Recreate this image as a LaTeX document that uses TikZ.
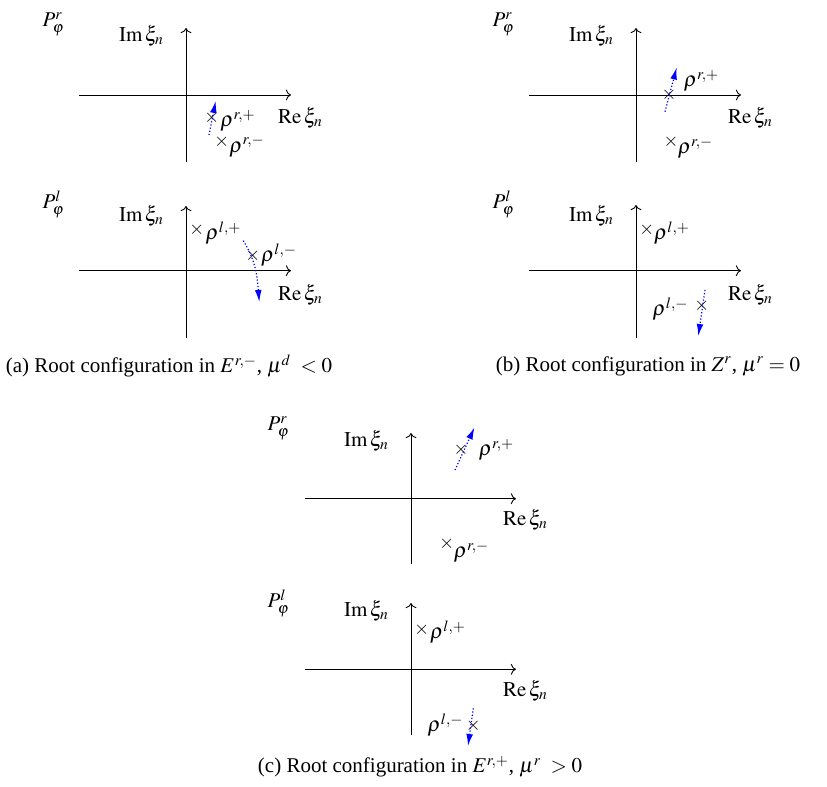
\documentclass[tikz,border=0pt]{standalone}
\usepackage{amsmath, amssymb}
\usepackage{mathptmx}
\usepackage[no-math]{fontspec}
\setmainfont{Liberation Serif}
\usepackage{tikz}
\usetikzlibrary{arrows.meta}
\tikzset{
    axis/.style={->, line width=0.45pt},
    root/.style={inner sep=0pt, outer sep=0pt, font=\fontsize{9.5}{11}\selectfont},
    rootlabel/.style={inner sep=0pt},
    flow/.style={blue, densely dotted, line width=0.6pt, -{Latex[length=6pt, width=3.4pt]}},
    caption/.style={align=center}
}

\begin{document}
\begin{tikzpicture}[x=0.5pt, y=-0.5pt, font=\fontsize{10.5}{12.6}\selectfont]
            \useasboundingbox (0,0) rectangle (827,787);

            % (a) top
            \node (aPr) at (53.5,24) {$P_\varphi^r$};
            \coordinate (aTw) at (79,95);
            \coordinate (aTe) at (291,95);
            \coordinate (aTs) at (186,162);
            \coordinate (aTn) at (186,28);
            \draw[axis] (aTw) -- (aTe);
            \draw[axis] (aTs) -- (aTn);
            \node (aTim) at (141.5,36) {$\operatorname{Im}\xi_n$};
            \node (aTre) at (300.5,118) {$\operatorname{Re}\xi_n$};
            \node[root] (arp) at (211.7,117.3) {$\times$};
            \node[rootlabel] (arpl) at (238,121) {$\rho^{r,+}$};
            \node[root] (arm) at (221.7,141.7) {$\times$};
            \node[rootlabel] (arml) at (247,146.5) {$\rho^{r,-}$};
            \coordinate (arp0) at (209,135);
            \coordinate (arp1) at (215.7,101);
            \draw[flow] (arp0) -- (arp1);

            % (a) bottom
            \node (aPl) at (53.5,204) {$P_\varphi^l$};
            \coordinate (aBw) at (79,270.7);
            \coordinate (aBe) at (291,270.7);
            \coordinate (aBs) at (186,338);
            \coordinate (aBn) at (186,206);
            \draw[axis] (aBw) -- (aBe);
            \draw[axis] (aBs) -- (aBn);
            \node (aBim) at (141.5,215.5) {$\operatorname{Im}\xi_n$};
            \node (aBre) at (300.5,294.5) {$\operatorname{Re}\xi_n$};
            \node[root] (alp) at (196.7,230) {$\times$};
            \node[rootlabel] (alpl) at (223.5,233) {$\rho^{l,+}$};
            \node[root] (alm) at (252.7,256) {$\times$};
            \node[rootlabel] (alml) at (279,255) {$\rho^{l,-}$};
            \coordinate (alm0) at (243.3,240.7);
            \coordinate (alm1) at (259.3,302);
            \draw[flow] (alm0) to[out=-58, in=95] (alm1);

            % (b) top
            \node (bPr) at (503.5,24) {$P_\varphi^r$};
            \coordinate (bTw) at (529,95);
            \coordinate (bTe) at (741,95);
            \coordinate (bTs) at (636,162);
            \coordinate (bTn) at (636,28);
            \draw[axis] (bTw) -- (bTe);
            \draw[axis] (bTs) -- (bTn);
            \node (bTim) at (591.5,36) {$\operatorname{Im}\xi_n$};
            \node (bTre) at (750.5,118) {$\operatorname{Re}\xi_n$};
            \node[root] (brp) at (669,95) {$\times$};
            \node[rootlabel] (brpl) at (701.5,81) {$\rho^{r,+}$};
            \node[root] (brm) at (671,141.7) {$\times$};
            \node[rootlabel] (brml) at (695.5,148) {$\rho^{r,-}$};
            \coordinate (brp0) at (665,111.7);
            \coordinate (brp1) at (676.7,67.5);
            \draw[flow] (brp0) -- (brp1);

            % (b) bottom
            \node (bPl) at (503.5,204) {$P_\varphi^l$};
            \coordinate (bBw) at (529,270.7);
            \coordinate (bBe) at (741,270.7);
            \coordinate (bBs) at (636,338);
            \coordinate (bBn) at (636,205);
            \draw[axis] (bBw) -- (bBe);
            \draw[axis] (bBs) -- (bBn);
            \node (bBim) at (591.5,215.5) {$\operatorname{Im}\xi_n$};
            \node (bBre) at (750.5,294.5) {$\operatorname{Re}\xi_n$};
            \node[root] (blp) at (646.7,230) {$\times$};
            \node[rootlabel] (blpl) at (672,233) {$\rho^{l,+}$};
            \node[root] (blm) at (701.7,306) {$\times$};
            \node[rootlabel] (blml) at (670.5,309) {$\rho^{l,-}$};
            \coordinate (blm0) at (705,290);
            \coordinate (blm1) at (698.3,336);
            \draw[flow] (blm0) -- (blm1);

            % (c) top
            \node (cPr) at (278.5,428) {$P_\varphi^r$};
            \coordinate (cTw) at (305,498.7);
            \coordinate (cTe) at (516,498.7);
            \coordinate (cTs) at (411,564);
            \coordinate (cTn) at (411,433);
            \draw[axis] (cTw) -- (cTe);
            \draw[axis] (cTs) -- (cTn);
            \node (cTim) at (366.5,440.5) {$\operatorname{Im}\xi_n$};
            \node (cTre) at (525.5,519.5) {$\operatorname{Re}\xi_n$};
            \node[root] (crp) at (461,450) {$\times$};
            \node[rootlabel] (crpl) at (496.5,450) {$\rho^{r,+}$};
            \node[root] (crm) at (446.7,544) {$\times$};
            \node[rootlabel] (crml) at (471.5,552) {$\rho^{r,-}$};
            \coordinate (crp0) at (455,470);
            \coordinate (crp1) at (474.5,427.5);
            \draw[flow] (crp0) -- (crp1);

            % (c) bottom
            \node (cPl) at (278.5,603) {$P_\varphi^l$};
            \coordinate (cBw) at (305,669.3);
            \coordinate (cBe) at (516,669.3);
            \coordinate (cBs) at (411,735);
            \coordinate (cBn) at (411,603);
            \draw[axis] (cBw) -- (cBe);
            \draw[axis] (cBs) -- (cBn);
            \node (cBim) at (366.5,610.5) {$\operatorname{Im}\xi_n$};
            \node (cBre) at (525.5,690.5) {$\operatorname{Re}\xi_n$};
            \node[root] (clp) at (421.7,629.3) {$\times$};
            \node[rootlabel] (clpl) at (448,632) {$\rho^{l,+}$};
            \node[root] (clm) at (473.3,725.7) {$\times$};
            \node[rootlabel] (clml) at (445.5,725) {$\rho^{l,-}$};
            \coordinate (clm0) at (473.3,708.3);
            \coordinate (clm1) at (468,746);
            \draw[flow] (clm0) -- (clm1);

            % captions
            \node[caption] (capa) at (169,366) {(a) Root configuration in $E^{r,-}$, $\mu^d\;<0$};
            \node[caption] (capb) at (648,366) {(b) Root configuration in $Z^r$, $\mu^r=0$};
            \node[caption] (capc) at (420,767) {(c) Root configuration in $E^{r,+}$, $\mu^r\;>0$};
        \end{tikzpicture}
\end{document}
